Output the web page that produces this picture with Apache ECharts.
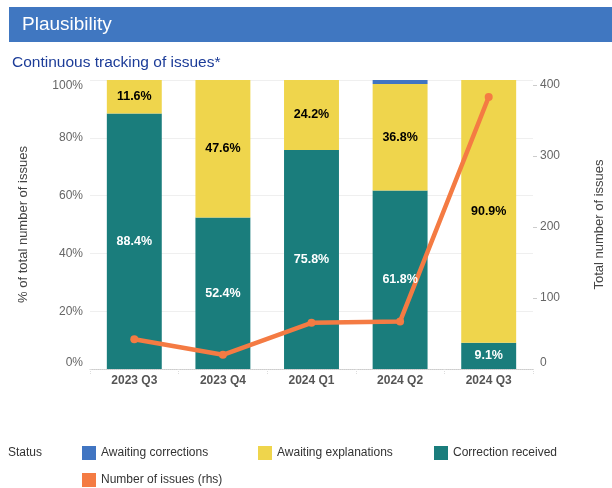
<!DOCTYPE html>
<html>
<head>
<meta charset="utf-8">
<script src="https://cdn.jsdelivr.net/npm/echarts@6/dist/echarts.min.js"></script>
<style>
html,body{margin:0;padding:0;background:#fff;}
#chart{width:612px;height:488px;}
</style>
</head>
<body>
<div id="chart"></div>
<script>
const categories = ['2023 Q3', '2023 Q4', '2024 Q1', '2024 Q2', '2024 Q3'];
const awaitingCorrections = [0, 0, 0, 1.4, 0];
const awaitingExplanations = [11.6, 47.6, 24.2, 36.8, 90.9];
const correctionReceived = [88.4, 52.4, 75.8, 61.8, 9.1];
const numberOfIssues = [42, 20, 65, 67, 383];
const rightTicks = [0, 100, 200, 300, 400];

const FONT = '"Liberation Sans", Arial, sans-serif';
const chart = echarts.init(document.getElementById('chart'), null, {renderer: 'canvas'});

const pctLabel = (color) => ({
  show: true,
  position: 'inside',
  color: color,
  fontFamily: FONT,
  fontWeight: 'bold',
  fontSize: 12.5,
  formatter: p => (p.value > 0 ? p.value.toFixed(1) + '%' : '')
});

const legendBase = {
  padding: 0,
  itemWidth: 14,
  itemHeight: 14,
  icon: 'rect',
  itemGap: 5,
  selectedMode: false,
  textStyle: {fontFamily: FONT, fontSize: 12, color: '#333'}
};

chart.setOption({
  animation: false,
  textStyle: {fontFamily: FONT},
  graphic: [
    {type: 'rect', shape: {x: 9, y: 7, width: 603, height: 35}, style: {fill: '#4077c1'}},
    {type: 'text', x: 22, y: 25, style: {text: 'Plausibility', fill: '#ffffff', font: '19px ' + FONT, textVerticalAlign: 'middle'}},
    {type: 'text', x: 12, y: 63, style: {text: 'Continuous tracking of issues*', fill: '#1c3c98', font: '15.5px ' + FONT, textVerticalAlign: 'middle'}},
    {type: 'text', x: 8, y: 453, style: {text: 'Status', fill: '#333', font: '12px ' + FONT, textVerticalAlign: 'middle'}}
  ],
  grid: {left: 90, right: 79, top: 80, bottom: 119, containLabel: false, outerBoundsMode: 'none'},
  legend: [
    Object.assign({}, legendBase, {data: ['Awaiting corrections'], left: 82, top: 446}),
    Object.assign({}, legendBase, {data: ['Awaiting explanations'], left: 258, top: 446}),
    Object.assign({}, legendBase, {data: ['Correction received'], left: 434, top: 446}),
    Object.assign({}, legendBase, {data: ['Number of issues (rhs)'], left: 82, top: 473})
  ],
  xAxis: {
    type: 'category',
    data: categories,
    axisLine: {lineStyle: {color: '#cccccc', type: 'dotted'}},
    axisTick: {show: true, length: 5, lineStyle: {color: '#dddddd', type: 'dotted'}},
    axisLabel: {color: '#555', fontWeight: 'bold', fontSize: 12, fontFamily: FONT, margin: 6}
  },
  yAxis: [
    {
      type: 'value', min: 0, max: 100, interval: 20,
      name: '% of total number of issues',
      nameLocation: 'middle', nameRotate: 90, nameGap: 60,
      nameTextStyle: {color: '#444', fontSize: 13, fontFamily: FONT},
      axisLine: {show: false}, axisTick: {show: false},
      axisLabel: {color: '#666', fontSize: 12, fontFamily: FONT, margin: 7, formatter: '{value}%',
        verticalAlignMaxLabel: 'top', verticalAlignMinLabel: 'bottom'},
      splitLine: {lineStyle: {color: '#efefef'}}
    },
    {
      type: 'value', min: 0, max: 407, interval: 100,
      name: 'Total number of issues',
      nameLocation: 'middle', nameRotate: 90, nameGap: 60,
      nameTextStyle: {color: '#444', fontSize: 13, fontFamily: FONT},
      axisLine: {show: false},
      axisTick: {show: true, length: 4, lineStyle: {color: '#cccccc'}, customValues: rightTicks.slice(1)},
      axisLabel: {color: '#666', fontSize: 12, fontFamily: FONT, margin: 7,
        customValues: rightTicks,
        formatter: v => String(v),
        verticalAlignMinLabel: 'bottom'},
      splitLine: {show: false}
    }
  ],
  series: [
    {name: 'Correction received', type: 'bar', stack: 'pct', data: correctionReceived, z: 2,
      barWidth: '62%', barGap: '-100%', itemStyle: {color: '#1a7d7c'}, label: {show: false}},
    {name: 'Awaiting explanations', type: 'bar', stack: 'pct', data: awaitingExplanations, z: 2,
      barWidth: '62%', barGap: '-100%', itemStyle: {color: '#efd54c'}, label: {show: false}},
    {name: 'Awaiting corrections', type: 'bar', stack: 'pct', data: awaitingCorrections, z: 2,
      barWidth: '62%', barGap: '-100%', itemStyle: {color: '#4175c2'}, label: {show: false}},
    {name: 'Number of issues (rhs)', type: 'line', yAxisIndex: 1, data: numberOfIssues, z: 3,
      symbol: 'circle', symbolSize: 8, showSymbol: true,
      lineStyle: {color: '#f47b43', width: 4.5},
      itemStyle: {color: '#f47b43'}},
    {name: 'lbl-correction', type: 'bar', stack: 'lbl', data: correctionReceived, z: 4, silent: true,
      barWidth: '62%', barGap: '-100%', itemStyle: {color: 'rgba(0,0,0,0)'}, label: pctLabel('#ffffff')},
    {name: 'lbl-explanations', type: 'bar', stack: 'lbl', data: awaitingExplanations, z: 4, silent: true,
      barWidth: '62%', barGap: '-100%', itemStyle: {color: 'rgba(0,0,0,0)'}, label: pctLabel('#000000')}
  ]
});
</script>
</body>
</html>
